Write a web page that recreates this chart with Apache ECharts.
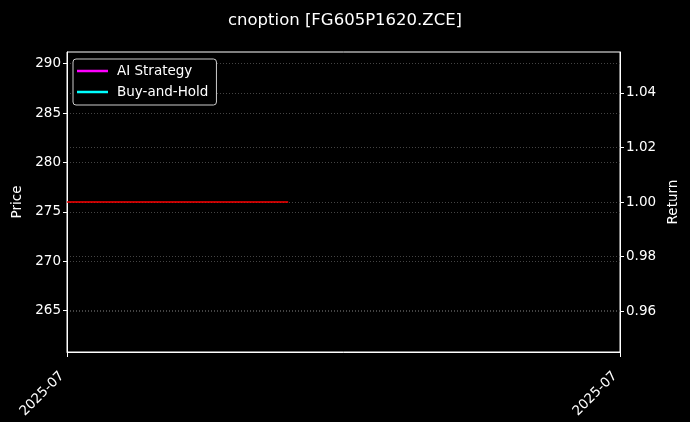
<!DOCTYPE html>
<html>
<head>
<meta charset="utf-8">
<script src="https://cdn.jsdelivr.net/npm/echarts@6/dist/echarts.min.js"></script>
<style>
  html, body { margin: 0; padding: 0; background: #000; }
  #chart { width: 690px; height: 422px; }
</style>
</head>
<body>
<div id="chart"></div>
<script>
// x positions (fraction of the period) and the labels shown at them
var xTicks = [0, 1];
var xLabels = ['2025-07', '2025-07'];

// price reference line (left axis)
var priceLineX = [0, 0.4];
var priceLevel = 276;

// return curves (single point each, so nothing visible)
var strategyReturn = [[0, 1.0]];
var buyHoldReturn = [[0, 1.0]];

// axis extents and ticks
var priceRange = [260.82, 291.18];
var priceTicks = [265, 270, 275, 280, 285, 290];
var returnRange = [0.945, 1.055];
var returnTicks = [0.96, 0.98, 1.00, 1.02, 1.04];

var FONT = 'DejaVu Sans';
var grid = { color: '#555', type: [1, 2], width: 0.8 };

var chart = echarts.init(document.getElementById('chart'));

var option = {
  backgroundColor: '#000',
  animation: false,
  title: {
    text: 'cnoption [FG605P1620.ZCE]',
    left: 'center',
    top: 7,
    textStyle: { color: '#fff', fontFamily: FONT, fontSize: 16.5, fontWeight: 'normal' }
  },
  grid: {
    left: 67, right: 70, top: 52, bottom: 70,
    outerBoundsMode: 'none',
    containLabel: false,
    show: true, borderColor: '#fff', borderWidth: 1, backgroundColor: '#000'
  },
  legend: {
    data: ['AI Strategy', 'Buy-and-Hold'],
    orient: 'vertical',
    left: 73,
    top: 59,
    padding: [4, 8, 5, 4],
    itemGap: 5,
    itemWidth: 31,
    itemHeight: 2.5,
    icon: 'rect',
    backgroundColor: '#000',
    borderColor: '#cccccc',
    borderWidth: 1,
    borderRadius: 3,
    textStyle: { color: '#fff', fontFamily: FONT, fontSize: 13.5, lineHeight: 16, padding: [0, 0, 0, 4] }
  },
  xAxis: {
    type: 'value',
    min: 0,
    max: 1,
    axisLine: { lineStyle: { color: '#fff', width: 1 } },
    axisTick: { customValues: xTicks, length: 5, lineStyle: { color: '#fff' } },
    axisLabel: {
      customValues: xTicks,
      rotate: 45,
      color: '#fff',
      fontFamily: FONT,
      fontSize: 13.5,
      margin: 17,
      padding: [0, 7, 0, 0],
      formatter: function (v) { return xLabels[xTicks.indexOf(v)]; }
    },
    splitLine: { show: false }
  },
  yAxis: [
    {
      type: 'value',
      position: 'left',
      min: priceRange[0],
      max: priceRange[1],
      name: 'Price',
      nameLocation: 'middle',
      nameGap: 42,
      nameTextStyle: { color: '#fff', fontFamily: FONT, fontSize: 13.5 },
      axisLine: { show: true, lineStyle: { color: '#fff', width: 1 } },
      axisTick: { show: true, customValues: priceTicks, length: 4, lineStyle: { color: '#fff' } },
      axisLabel: { customValues: priceTicks, color: '#fff', fontFamily: FONT, fontSize: 13.5, margin: 6 },
      splitLine: { show: true, lineStyle: grid }
    },
    {
      type: 'value',
      position: 'right',
      min: returnRange[0],
      max: returnRange[1],
      name: 'Return',
      nameLocation: 'middle',
      nameGap: 46,
      nameTextStyle: { color: '#fff', fontFamily: FONT, fontSize: 13.5 },
      axisLine: { show: true, lineStyle: { color: '#fff', width: 1 } },
      axisTick: { show: true, customValues: returnTicks, length: 4, lineStyle: { color: '#fff' } },
      axisLabel: {
        customValues: returnTicks, color: '#fff', fontFamily: FONT, fontSize: 13.5, margin: 6,
        formatter: function (v) { return v.toFixed(2); }
      },
      splitLine: { show: true, lineStyle: grid }
    }
  ],
  series: [
    {
      name: 'price',
      type: 'line',
      yAxisIndex: 0,
      showSymbol: false,
      silent: true,
      lineStyle: { color: '#ff0000', width: 1.3 },
      itemStyle: { color: '#ff0000' },
      data: priceLineX.map(function (x) { return [x, priceLevel]; })
    },
    {
      name: 'AI Strategy',
      type: 'line',
      yAxisIndex: 1,
      showSymbol: false,
      lineStyle: { color: '#ff00ff', width: 2 },
      itemStyle: { color: '#ff00ff' },
      data: strategyReturn
    },
    {
      name: 'Buy-and-Hold',
      type: 'line',
      yAxisIndex: 1,
      showSymbol: false,
      lineStyle: { color: '#00ffff', width: 2 },
      itemStyle: { color: '#00ffff' },
      data: buyHoldReturn
    }
  ]
};

chart.setOption(option);
</script>
</body>
</html>
